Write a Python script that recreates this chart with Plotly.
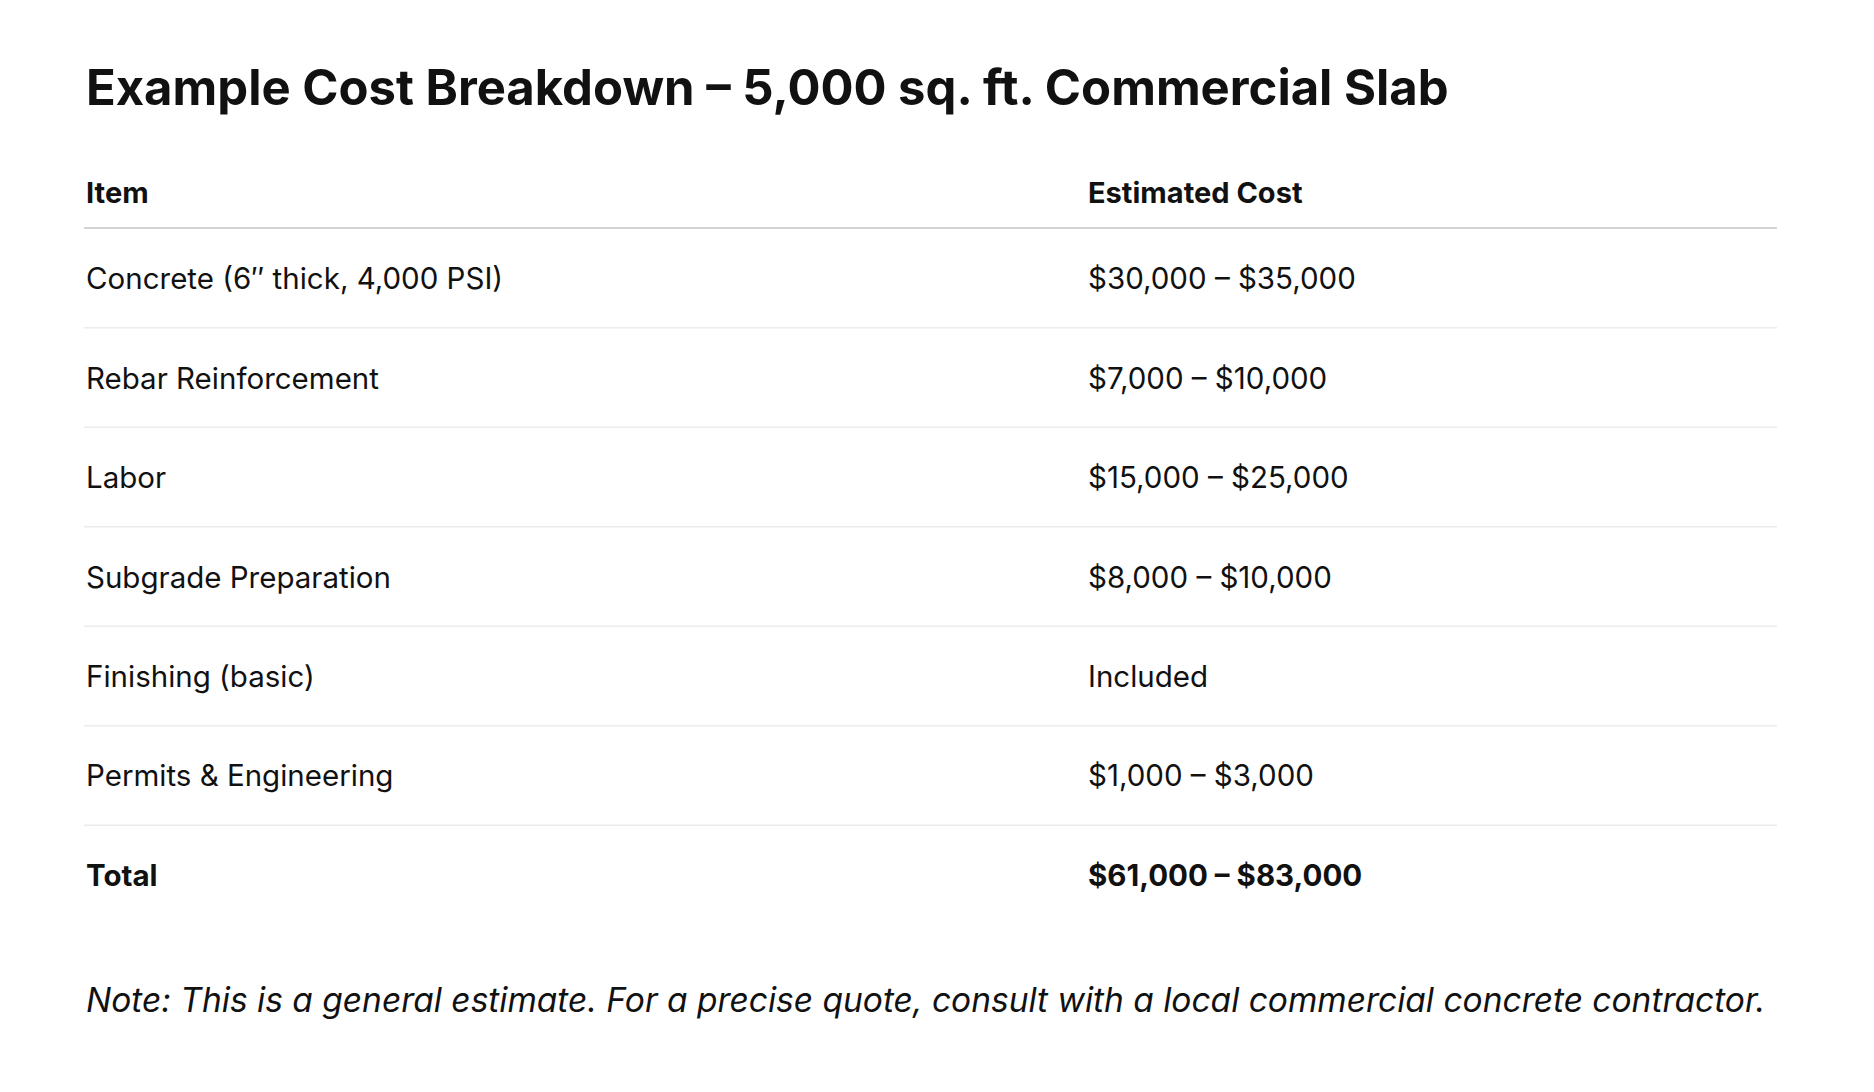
import plotly.graph_objects as go

title = "Example Cost Breakdown – 5,000 sq. ft. Commercial Slab"
headers = ["Item", "Estimated Cost"]
items = ["Concrete (6″ thick, 4,000 PSI)", "Rebar Reinforcement", "Labor",
         "Subgrade Preparation", "Finishing (basic)", "Permits & Engineering", "Total"]
costs = ["$30,000 – $35,000", "$7,000 – $10,000", "$15,000 – $25,000",
         "$8,000 – $10,000", "Included", "$1,000 – $3,000", "$61,000 – $83,000"]
note = "Note: This is a general estimate. For a precise quote, consult with a local commercial concrete contractor."

W, H = 1874, 1092
x0, x1, xc = 76, 1769, 1078
dy = -8
fig = go.Figure()
ann = []
shapes = []
def A(x, y, t, size, bold=False, italic=False, color="#111"):
    txt = f"<b>{t}</b>" if bold else t
    if italic: txt = f"<i>{txt}</i>"
    ann.append(dict(x=x/W, y=1-(y+dy)/H, xref="paper", yref="paper", text=txt, showarrow=False,
                    xanchor="left", yanchor="middle", font=dict(size=size, color=color, family="Inter")))

A(x0, 88, title, 49, bold=True)
A(x0, 192, headers[0], 29, bold=True)
A(xc, 192, headers[1], 29, bold=True)
def L(y, color, w):
    shapes.append(dict(type="line", xref="paper", yref="paper", x0=x0/W, x1=x1/W,
                       y0=1-(y+dy)/H, y1=1-(y+dy)/H, line=dict(color=color, width=w)))
L(228, "#d4d4d4", 2)
step = 99.5
for i, (it, c) in enumerate(zip(items, costs)):
    y = 278 + i*step
    b = (i == len(items)-1)
    A(x0, y, it, 29.5, bold=b)
    A(xc, y, c, 29.5, bold=b)
    if not b:
        L(y + step/2, "#ececec", 1.5)
A(x0, 1000, note, 33.5, italic=True)

fig.update_layout(width=W, height=H, margin=dict(l=0, r=0, t=0, b=0), paper_bgcolor="white",
                  plot_bgcolor="white", annotations=ann, shapes=shapes,
                  xaxis=dict(visible=False), yaxis=dict(visible=False))
fig.write_html("out.html")
